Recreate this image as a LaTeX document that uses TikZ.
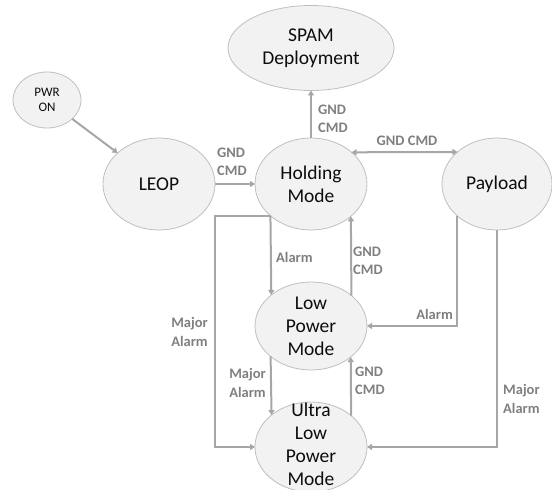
\documentclass[tikz,border=0pt]{standalone}
\usepackage{fontspec}
\setmainfont{Carlito}
\usetikzlibrary{shapes.geometric,arrows.meta,calc}
\definecolor{statefill}{HTML}{F2F2F2}
\definecolor{stateedge}{HTML}{BFBFBF}
\definecolor{wire}{HTML}{A6A6A6}
\definecolor{tagtext}{HTML}{7F7F7F}

\begin{document}
\begin{tikzpicture}[x=1pt,y=1pt,
  state/.style={ellipse, draw=stateedge, line width=0.8pt, fill=statefill,
                inner sep=0pt, outer sep=0pt},
  stxt/.style={font=\fontsize{19.5}{23}\selectfont, align=center, text=black!95, inner sep=0pt},
  smalltxt/.style={font=\fontsize{13}{15.5}\selectfont, align=center, text=black!95, inner sep=0pt},
  tip/.style={-{Triangle[length=5pt,width=6pt]}},
  conn/.style={draw=wire, line width=2pt, tip},
  conn2/.style={draw=wire, line width=2pt,
                {Triangle[length=5pt,width=6pt]}-{Triangle[length=5pt,width=6pt]}},
  tag/.style={font=\fontsize{14.5}{18.5}\selectfont\bfseries, text=tagtext,
              inner sep=0pt, align=left}]

\useasboundingbox (0,0) rectangle (552,490);

% states
\node[state, minimum width=166pt, minimum height=85pt,
      label={[stxt]center:{SPAM\\Deployment}}] (spam) at (311,442) {};
\node[state, minimum width=68pt, minimum height=56pt,
      label={[smalltxt]center:{PWR\\ON}}] (pwr) at (47,390) {};
\node[state, minimum width=112pt, minimum height=92pt,
      label={[stxt]center:{LEOP}}] (leop) at (159,306) {};
\node[state, minimum width=112pt, minimum height=92pt,
      label={[stxt]center:{Holding\\Mode}}] (hold) at (311,306) {};
\node[state, minimum width=110pt, minimum height=92pt,
      label={[stxt]center:{Payload}}] (pay) at (497,306) {};
\node[state, minimum width=112pt, minimum height=88pt,
      label={[stxt]center:{Low\\Power\\Mode}}] (low) at (311,164) {};
\node[state, minimum width=112pt, minimum height=90pt,
      label={[stxt, yshift=2.5pt]center:{Ultra\\Low\\Power\\Mode}}] (ultra) at (311,43) {};

\coordinate (loopx) at (215,0);

% transitions
\draw[conn] (pwr) -- (leop);
\draw[conn] (leop.east) -- (hold.west);
\draw[conn] (hold.north) -- (spam.south);
\draw[conn2] (hold.38.5) -- (pay.141.5);
\draw[conn] (hold.218.8) -- (low.142.4);
\draw[conn] (low.37.6) -- (hold.321.2);
\draw[conn] (pay.219.7) |- (low.east);
\draw[conn] (pay.south) |- (ultra.east);
\draw[conn] (hold.218.8) -- (hold.218.8 -| loopx) |- (ultra.west);
\draw[conn] (low.217.6) -- (ultra.141.8);
\draw[conn] (ultra.38.2) -- (low.322.4);

% transition labels
\node[tag, anchor=west] (t1) at (217,328) {GND\\CMD};
\node[tag, anchor=west] (t2) at (318,371) {GND\\CMD};
\node[tag] (t3) at (407,349) {GND CMD};
\node[tag, anchor=west] (t4) at (276,233) {Alarm};
\node[tag, anchor=west] (t5) at (353,229) {GND\\CMD};
\node[tag, anchor=east] (t6) at (453,176) {Alarm};
\node[tag, anchor=west] (t7) at (355,109) {GND\\CMD};
\node[tag, anchor=east] (t8) at (266,107) {Major\\Alarm};
\node[tag, anchor=east] (t9) at (208,158) {Major\\Alarm};
\node[tag, anchor=west] (t10) at (503,91) {Major\\Alarm};
\end{tikzpicture}
\end{document}
